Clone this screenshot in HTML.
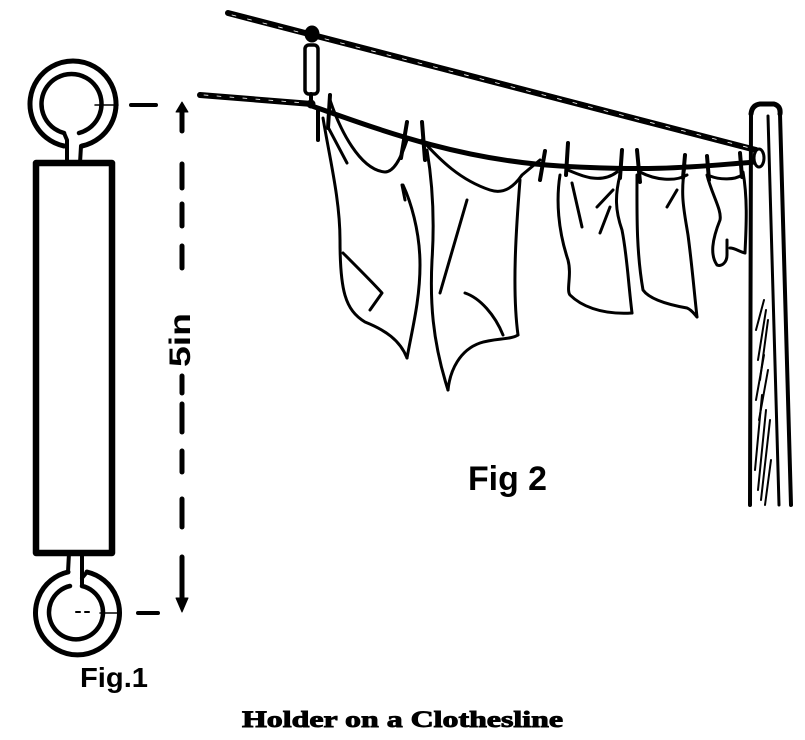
<!DOCTYPE html>
<html><head><meta charset="utf-8"><style>
html,body{margin:0;padding:0;background:#fff;}
svg{display:block;}
</style></head><body>
<svg width="805" height="740" viewBox="0 0 805 740" xmlns="http://www.w3.org/2000/svg">
<rect width="805" height="740" fill="#fff"/>
<g fill="none" stroke="#000" stroke-linecap="round" stroke-linejoin="round">
<!-- Fig 1 top ring -->
<path d="M82 146 A43 43 0 1 0 64 146" stroke-width="5"/>
<path d="M79 133 A30 30 0 1 0 64 133" stroke-width="4.5"/>
<path d="M64 133 L67 140 L67 163" stroke-width="4"/>
<path d="M81 146 L80 163" stroke-width="4"/>
<!-- rect -->
<rect x="36" y="163" width="76" height="390" stroke-width="6.5"/>
<!-- bottom ring -->
<path d="M87 572 A42 42 0 1 1 68 572" stroke-width="5"/>
<path d="M82 586 A27 27 0 1 1 70 586" stroke-width="4.5"/>
<path d="M68 572 L69 553" stroke-width="4"/>
<path d="M82 586 L82 553" stroke-width="4"/>
<path d="M87 572 L82 578" stroke-width="4"/>
<!-- dimension lines -->
<path d="M95 105 L118 105" stroke-width="1.5"/>
<path d="M131 105 L156 105" stroke-width="4"/>
<path d="M100 613 L120 613" stroke-width="1.5"/>
<path d="M138 613 L158 613" stroke-width="4"/>
<path d="M76 612 L80 612 M85 612 L89 612" stroke-width="2"/>
<g stroke-width="5">
<path d="M182 108 L182 131"/>
<path d="M182 164 L182 188"/>
<path d="M182 204 L182 226"/>
<path d="M182 246 L182 268"/>
<path d="M182 376 L182 393"/>
<path d="M182 404 L182 432"/>
<path d="M182 451 L182 472"/>
<path d="M182 499 L182 527"/>
<path d="M182 557 L182 600"/>
</g>
<path d="M176 112 L182 102 L188 112 Z" fill="#000" stroke-width="1"/>
<path d="M176 598 L182 612 L188 598 Z" fill="#000" stroke-width="1"/>
</g>
<text transform="translate(190,340) rotate(-90)" text-anchor="middle" font-family="Liberation Sans, sans-serif" font-weight="bold" font-size="30" textLength="54" lengthAdjust="spacingAndGlyphs">5in</text>
<text x="80" y="687" font-family="Liberation Sans, sans-serif" font-weight="bold" font-size="28" textLength="68" lengthAdjust="spacingAndGlyphs">Fig.1</text>
<text x="468" y="490" font-family="Liberation Sans, sans-serif" font-weight="bold" font-size="34" textLength="79" lengthAdjust="spacingAndGlyphs">Fig 2</text>
<text x="242" y="727" font-family="Liberation Serif, serif" font-weight="bold" font-size="23" stroke="#000" stroke-width="0.9" textLength="321" lengthAdjust="spacingAndGlyphs">Holder on a Clothesline</text>

<g fill="none" stroke="#000" stroke-linecap="round" stroke-linejoin="round">
<!-- upper rope -->
<path d="M228 13 L756 150" stroke-width="6"/>
<path d="M232 15 L750 148" stroke="#fff" stroke-width="0.8" stroke-dasharray="4 12"/>
<!-- lower rope left -->
<path d="M200 95 L312 104" stroke-width="6"/>
<path d="M204 95 L305 103" stroke="#fff" stroke-width="0.8" stroke-dasharray="4 9"/>
<!-- clothesline -->
<path d="M312 106 C380 130 460 160 560 166 S700 166 756 162" stroke-width="5"/>
<!-- holder -->
<ellipse cx="312" cy="34" rx="7" ry="8" fill="#000" stroke-width="1"/>
<rect x="305" y="45" width="13" height="49" rx="4" stroke-width="3.5"/>
<path d="M311 94 L311 103" stroke-width="4"/>
<circle cx="311" cy="104" r="4" fill="#000" stroke-width="1"/>
<!-- pole -->
<path d="M751 114 L750 505" stroke-width="4"/>
<path d="M780 114 L791 505" stroke-width="4"/>
<path d="M768 116 L779 505" stroke-width="3"/>
<path d="M751 114 Q752 105 760 104 L774 104 Q781 106 780 114" stroke-width="5"/>
<ellipse cx="759" cy="158" rx="5" ry="9" fill="#fff" stroke-width="3"/>
<g stroke-width="2">
<path d="M756 330 L764 300"/><path d="M758 360 L766 310"/><path d="M760 380 L768 320"/>
<path d="M756 400 L764 355"/><path d="M759 420 L768 370"/>
<path d="M755 470 L762 395"/><path d="M758 490 L766 410"/><path d="M761 500 L770 420"/>
<path d="M765 505 L771 460"/>
</g>
<!-- cloth 1 -->
<g stroke-width="3">
<path d="M323 118 C330 160 340 200 340 240 C340 290 345 310 365 322 C385 330 400 340 407 358"/>
<path d="M407 358 C412 330 420 300 420 265 C420 230 410 200 403 185"/>
<path d="M343 253 C360 270 375 285 382 293 L370 310"/>
<path d="M330 100 C340 130 360 170 385 172 C395 172 402 155 407 140"/>
<path d="M328 127 L347 163"/>
<!-- cloth 2 -->
<path d="M427 150 C432 180 435 215 432 260 C430 300 432 340 448 390"/>
<path d="M448 390 C450 370 460 350 480 343 C495 338 510 340 518 335"/>
<path d="M520 180 C516 230 512 290 518 335"/>
<path d="M422 140 C440 160 460 180 490 190 C505 195 515 185 522 175 L540 160"/>
<path d="M467 200 L440 293"/>
<path d="M465 293 C480 298 495 315 503 335"/>
<path d="M402 185 L405 200"/>
<!-- cloth 3 -->
<path d="M560 175 C556 200 558 230 568 260 C572 275 566 290 570 295 C580 305 600 315 632 313"/>
<path d="M632 313 C628 280 627 255 622 230 C615 210 615 195 620 175"/>
<path d="M568 170 C580 175 600 185 617 172"/>
<path d="M572 183 L582 227"/>
<path d="M597 207 L613 190"/>
<path d="M600 233 L610 207"/>
<!-- cloth 4 -->
<path d="M637 175 C637 210 636 250 643 290 C650 300 670 305 687 308 C692 310 695 315 697 317"/>
<path d="M697 317 C694 290 692 265 688 235 C684 210 680 195 685 165"/>
<path d="M640 172 C655 180 675 182 687 175"/>
<path d="M667 207 L677 190"/>
<!-- cloth 5 -->
<path d="M707 175 C712 195 722 210 720 220 C712 240 710 255 717 265 C722 267 727 262 727 255 L727 240"/>
<path d="M743 172 C748 200 746 230 745 253 C740 252 735 248 730 248"/>
<path d="M710 176 C720 180 735 180 742 175"/>
</g>
<!-- pins -->
<g stroke-width="4">
<path d="M330 95 L328 128"/><path d="M318 108 L318 140"/>
<path d="M407 122 L401 158"/><path d="M422 122 L425 160"/>
<path d="M545 151 L540 180"/><path d="M568 143 L566 175"/>
<path d="M622 150 L620 178"/><path d="M637 150 L640 182"/>
<path d="M685 155 L683 178"/><path d="M707 156 L709 180"/>
<path d="M740 153 L742 177"/>
</g>
</g>
</svg>
</body></html>
